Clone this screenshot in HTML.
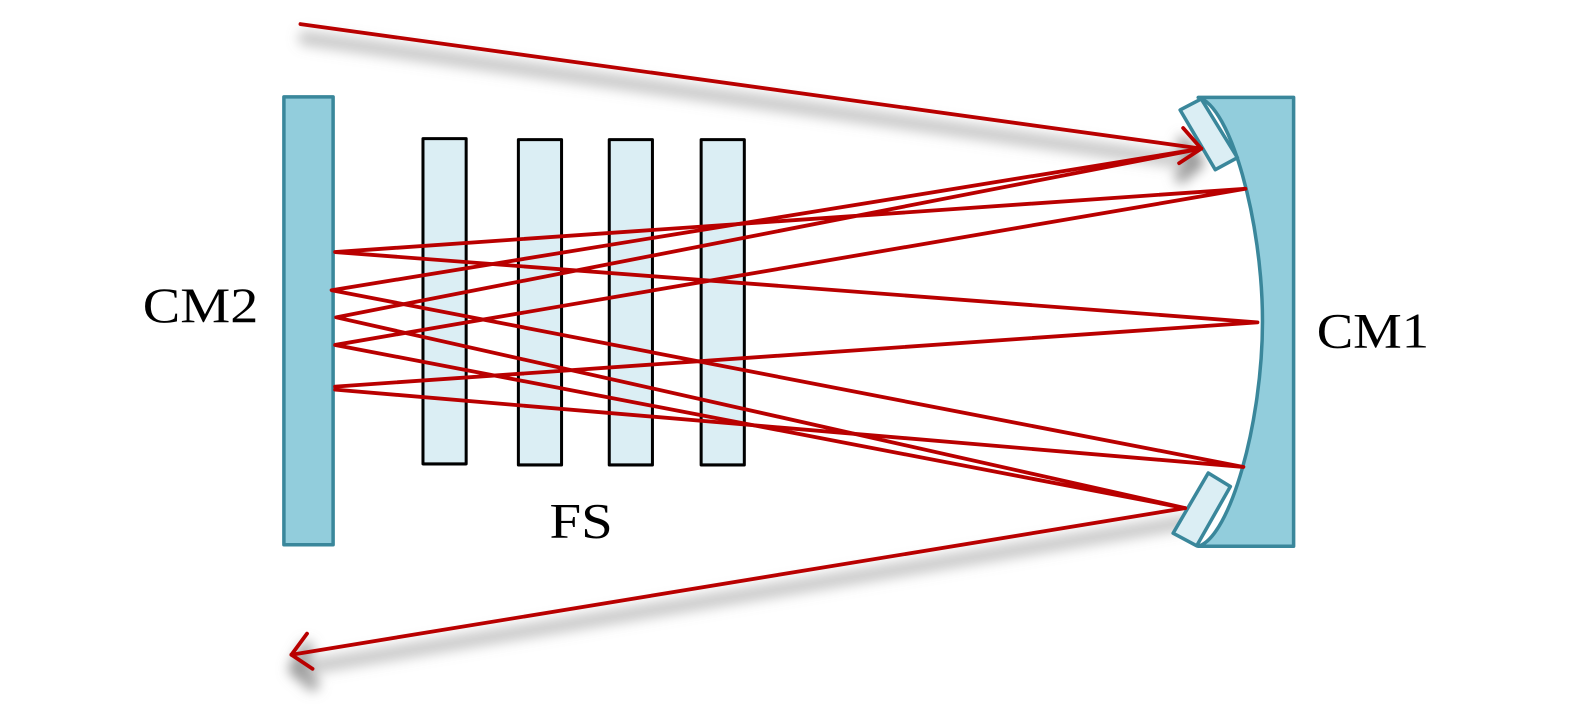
<!DOCTYPE html>
<html>
<head>
<meta charset="utf-8">
<style>
html,body{margin:0;padding:0;background:#fff;width:1575px;height:719px;overflow:hidden}
svg{display:block}
text{font-family:"Liberation Serif",serif;font-size:50px;fill:#000}
</style>
</head>
<body>
<svg width="1575" height="719" viewBox="0 0 1568 716" xmlns="http://www.w3.org/2000/svg">
<defs>
<filter id="b" x="-20%" y="-100%" width="140%" height="300%"><feGaussianBlur stdDeviation="6"/></filter>
</defs>
<!-- shadows -->
<g filter="url(#b)" fill="none" stroke="#808080" stroke-linecap="round" stroke-linejoin="round">
<path d="M304 38L1190 162" stroke-width="15" opacity=".42"/>
<path d="M1178 142L1192 162L1176 176" stroke-width="13" opacity=".75"/>
<path d="M1180 520L296 666" stroke-width="15" opacity=".42"/>
<path d="M305 646L294 666L311 681" stroke-width="14" opacity=".7"/>
</g>
<!-- CM2 -->
<rect x="282.500" y="96.500" width="49" height="446" fill="#92cddc" stroke="#3a879b" stroke-width="3.500" stroke-linejoin="round"/>
<!-- FS plates -->
<g fill="#dbeef4" stroke="#000" stroke-width="3" stroke-linejoin="round">
<rect x="421" y="138" width="43" height="324"/>
<rect x="516" y="139" width="43" height="324"/>
<rect x="606.500" y="139" width="43" height="324"/>
<rect x="698" y="139" width="43" height="324"/>
</g>
<!-- CM1 -->
<path d="M1193 97H1288V544H1193C1225 535 1257 420 1257 320C1257 220 1225 105 1193 97Z" fill="#92cddc" stroke="#3a879b" stroke-width="3.500" stroke-linejoin="round"/>
<!-- small mirrors -->
<g fill="#dbeef4" stroke="#3a879b" stroke-width="3.500" stroke-linejoin="round">
<polygon points="1175,109.500 1196,98.500 1232,157 1210,169"/>
<polygon points="1203,471 1225,484.500 1191.500,543.500 1168,531"/>
</g>
<!-- rays -->
<g fill="none" stroke="#b90000" stroke-width="3.800" stroke-linecap="round" stroke-linejoin="round">
<path d="M299 24L1196 148"/>
<path d="M1178 127.500L1196 148L1174 162.500"/>
<path d="M1196 148L330 289L1238 465L333.500 388"/>
<path d="M1196 148L334.500 316L1180 506L333.500 343.500L1240 188L333.500 251L1252 321L333.500 385"/>
<path d="M1180 506L290 652"/>
<path d="M305.500 631L290 652L311 666"/>
</g>
<!-- labels -->
<text x="142" y="320.500" textLength="115" lengthAdjust="spacingAndGlyphs">CM2</text>
<text x="1311" y="346" textLength="112" lengthAdjust="spacingAndGlyphs">CM1</text>
<text x="547" y="535.500" textLength="63" lengthAdjust="spacingAndGlyphs">FS</text>
</svg>
</body>
</html>
